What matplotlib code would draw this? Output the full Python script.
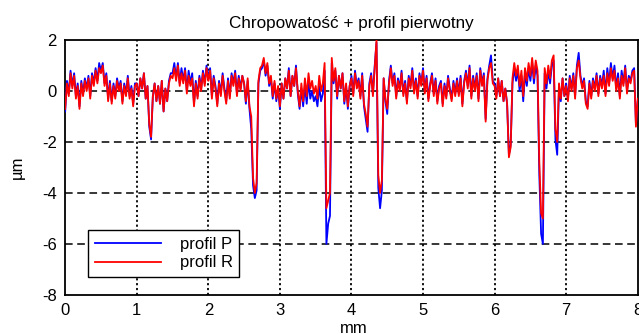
import numpy as np
import matplotlib
matplotlib.use("Agg")
import matplotlib.pyplot as plt

plt.rcParams["font.family"] = ["Liberation Sans", "DejaVu Sans"]
plt.rcParams["axes.unicode_minus"] = False

# sampling step along the profile (mm)
step_mm = 0.025

# roughness profile R (um), 0.025 mm steps, one row per 0.5 mm
profil_r = [
    -0.7, 0.3, -0.2, 0.7, 0.1, 0.6, -0.3, 0.2, -0.7, 0.3, -0.2, 0.4, 0.0, 0.5, -0.3, 0.6, 0.2, 0.8, 0.3, 0.9,
    0.7, 1.0, 0.2, 0.6, -0.4, 0.3, -0.5, 0.2, -0.3, 0.4, 0.0, 0.3, -0.5, 0.2, -0.2, 0.5, -0.3, 0.1, -0.6, 0.2,
    0.3, -0.2, 0.5, 0.1, 0.7, -0.3, 0.2, -1.3, -1.8, -0.2, 0.3, -0.4, 0.2, -0.5, 0.4, -0.8, 0.1, -0.4, 0.3, 0.6,
    0.5, 0.9, 0.4, 1.0, 0.2, 0.7, 0.3, 0.8, -0.1, 0.6, 0.2, 0.5, -0.6, 0.3, -0.3, 0.5, 0.0, 0.7, 0.2, 0.9,
    0.4, 0.8, -0.3, 0.5, 0.1, -0.6, 0.3, -0.2, 0.6, 0.0, -0.5, 0.4, -0.3, 0.6, 0.2, 0.7, -0.2, 0.5, 0.0, 0.6,
    0.3, -0.4, 0.5, -0.6, -1.0, -3.4, -4.0, -3.6, 0.4, 0.9, 1.0, 1.3, 0.7, 1.1, 0.3, 0.6, -0.2, 0.4, -0.3, 0.2,
    -0.6, 0.3, -0.3, 0.5, 0.1, 0.8, -0.2, 0.6, 0.2, 0.9, 0.0, -0.6, 0.3, -0.4, 0.5, -0.2, 0.7, 0.1, 0.4, -0.1,
    0.2, -0.3, 0.6, 0.0, 0.3, 1.1, -4.6, -4.3, -4.0, 1.3, 0.4, 0.9, -0.2, 0.6, 0.1, 0.7, -0.4, 0.3, -0.6, 0.2,
    0.5, -0.2, 0.7, 0.1, 0.4, -0.3, 0.6, -0.5, -0.9, -1.4, 0.2, 0.6, -0.2, 0.9, 2.0, -3.3, -4.0, -3.5, 0.5, -0.3,
    -0.7, 0.3, 0.9, 0.2, 0.6, -0.3, 0.4, 0.0, 0.7, -0.2, 0.3, -0.5, 0.5, 0.1, 0.8, -0.1, 0.4, -0.3, 0.6, 0.2,
    0.8, -0.1, 0.5, -0.4, 0.2, 0.6, -0.2, 0.4, -0.5, 0.1, 0.3, -0.6, 0.2, -0.3, 0.5, 0.0, -0.4, 0.3, -0.2, 0.4,
    -0.2, 0.5, -0.6, 0.3, 0.7, 0.1, 0.9, -0.3, 0.5, 0.0, 0.6, -0.4, 0.8, 0.2, 0.6, -1.2, 0.4, 0.9, 1.1, 0.3,
    0.2, -0.3, 0.5, -0.2, 0.4, -0.4, 0.1, -0.5, -2.6, -2.2, 0.5, 1.1, 0.6, 1.0, 0.2, 0.8, -0.2, 0.9, 0.4, 1.1,
    0.6, 1.3, 0.5, 1.2, 0.8, -2.8, -4.8, -5.0, 0.9, 0.3, 1.0, 0.5, 1.2, 1.4, -1.5, -2.0, 0.3, -0.3, 0.5, -0.2,
    0.2, -0.4, 0.5, 0.0, 0.6, -0.3, 0.9, 1.2, 0.5, 0.1, 0.4, -0.5, -0.7, 0.3, -0.3, 0.4, 0.0, 0.6, -0.2, 0.5,
    0.1, 0.6, -0.2, 0.7, 0.2, 0.9, 0.4, 0.8, 0.0, 0.5, -0.3, 0.6, 0.2, 0.9, -0.1, 0.5, 0.3, 0.7, 0.8, -1.4,
    -0.3,
]

# primary profile P (um), same sampling
profil_p = [
    -0.8, 0.4, -0.1, 0.8, 0.2, 0.7, -0.2, 0.3, -0.6, 0.4, -0.1, 0.5, 0.1, 0.6, -0.2, 0.7, 0.3, 0.9, 0.4, 1.1,
    0.8, 1.1, 0.3, 0.7, -0.3, 0.4, -0.4, 0.3, -0.2, 0.5, 0.1, 0.4, -0.4, 0.3, -0.1, 0.6, -0.2, 0.2, -0.5, 0.3,
    0.3, -0.2, 0.5, 0.1, 0.7, -0.3, 0.2, -1.4, -1.9, -0.2, 0.3, -0.4, 0.2, -0.5, 0.4, -0.8, 0.1, -0.4, 0.4, 0.7,
    0.7, 1.1, 0.5, 1.1, 0.3, 0.9, 0.4, 0.9, 0.0, 0.8, 0.3, 0.7, -0.5, 0.4, -0.2, 0.6, 0.1, 0.8, 0.3, 1.0,
    0.5, 0.9, -0.2, 0.6, 0.2, -0.5, 0.4, -0.1, 0.7, 0.1, -0.4, 0.5, -0.2, 0.7, 0.3, 0.8, -0.1, 0.6, 0.1, 0.6,
    0.3, -0.5, 0.4, -0.7, -1.5, -3.7, -4.2, -3.9, 0.3, 0.8, 0.9, 1.2, 0.6, 1.0, 0.2, 0.5, -0.3, 0.3, -0.4, 0.1,
    -0.7, 0.3, -0.3, 0.5, 0.1, 0.9, -0.2, 0.6, 0.2, 1.0, -0.1, -0.7, 0.1, -0.6, 0.2, -0.5, 0.4, -0.3, 0.0, -0.4,
    -0.2, -0.6, 0.2, -0.4, -0.1, 0.8, -6.0, -5.2, -4.9, 1.1, 0.3, 0.8, -0.3, 0.6, 0.1, 0.7, -0.5, 0.2, -0.7, 0.2,
    0.6, -0.1, 0.8, 0.2, 0.5, -0.2, 0.7, -0.6, -1.1, -1.6, 0.3, 0.7, -0.1, 1.0, 1.9, -3.8, -4.6, -3.9, 0.5, -0.4,
    -0.9, 0.4, 1.0, 0.3, 0.7, -0.2, 0.5, 0.1, 0.8, -0.1, 0.4, -0.4, 0.6, 0.2, 0.9, 0.0, 0.5, -0.2, 0.7, 0.3,
    0.9, 0.0, 0.6, -0.3, 0.3, 0.7, -0.1, 0.5, -0.4, 0.2, 0.4, -0.5, 0.3, -0.2, 0.6, 0.1, -0.3, 0.4, -0.1, 0.5,
    -0.1, 0.6, -0.5, 0.4, 0.8, 0.2, 1.0, -0.2, 0.6, 0.1, 0.7, -0.3, 0.9, 0.3, 0.7, -1.1, 0.5, 1.0, 1.4, 0.4,
    0.3, -0.2, 0.5, -0.2, 0.4, -0.4, 0.1, -0.5, -2.5, -2.1, 0.3, 0.9, 0.4, 0.8, 0.0, 0.6, -0.4, 0.7, 0.2, 0.9,
    0.4, 1.1, 0.3, 1.0, 0.6, -3.3, -5.6, -6.0, 0.7, 0.1, 0.8, 0.3, 1.0, 1.2, -1.9, -2.5, 0.1, -0.4, 0.5, -0.2,
    0.3, -0.3, 0.6, 0.1, 0.7, -0.2, 1.0, 1.5, 0.6, 0.2, 0.5, -0.4, -0.6, 0.4, -0.2, 0.5, 0.1, 0.7, -0.1, 0.6,
    0.2, 0.8, -0.1, 0.9, 0.3, 1.1, 0.5, 1.0, 0.1, 0.7, -0.2, 0.8, 0.3, 1.0, 0.0, 0.6, 0.4, 0.8, 0.9, -1.3,
    -0.4,
]

x_ticks = [0, 1, 2, 3, 4, 5, 6, 7, 8]
y_ticks = [-8, -6, -4, -2, 0, 2]

x_mm = np.arange(len(profil_r)) * step_mm

fig = plt.figure(figsize=(6.39, 3.34), dpi=100)
ax = fig.add_axes([0.102, 0.117, 0.896, 0.763])

ax.plot(x_mm, profil_p, color="#0000ff", lw=1.3, label="profil P", zorder=3)
ax.plot(x_mm, profil_r, color="#ff0000", lw=1.3, label="profil R", zorder=4)

ax.set_xlim(0, 8)
ax.set_ylim(-8, 2)
ax.set_xticks(x_ticks)
ax.set_yticks(y_ticks)
ax.tick_params(labelsize=12, direction="in", length=0, pad=6)

for xv in x_ticks[1:-1]:
    ax.axvline(xv, color="black", lw=1.3, ls=(0, (1.2, 1.5)), zorder=1)
for yv in y_ticks[1:-1]:
    ax.axhline(yv, color="black", lw=1.1, ls=(0, (5, 3)), zorder=1)

for s in ax.spines.values():
    s.set_linewidth(1.3)

ax.set_title("Chropowatość + profil pierwotny", fontsize=12.3, pad=9)
ax.set_ylabel("µm", fontsize=12, labelpad=12)
fig.text(0.553, -0.005, "mm", fontsize=12, ha="center", va="bottom")

leg = ax.legend(loc="lower left", bbox_to_anchor=(0.04, 0.07), borderaxespad=0,
                fontsize=12, handlelength=4.0, handletextpad=1.1, borderpad=0.4,
                labelspacing=0.2, fancybox=False, framealpha=1)
leg.get_frame().set_edgecolor("black")
leg.get_frame().set_linewidth(1.0)

fig.savefig("out.png", dpi=100)
